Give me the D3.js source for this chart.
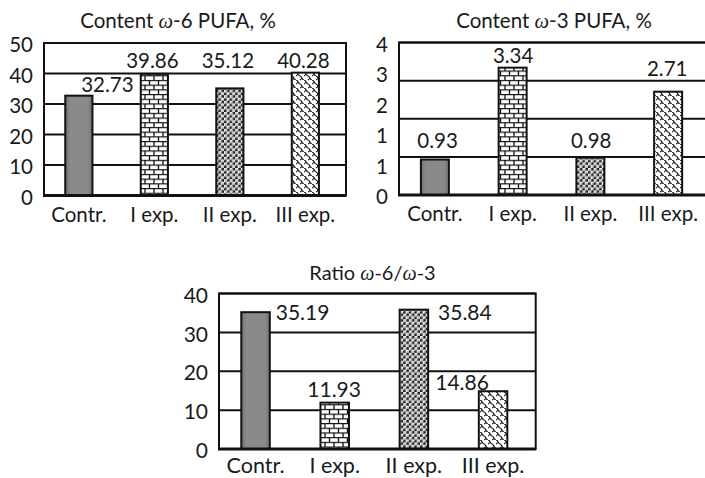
<!DOCTYPE html>
<html>
<head>
<meta charset="utf-8">
<script src="https://cdn.jsdelivr.net/npm/d3@7"></script>
<style>
  body { margin: 0; background: #fff; }
  svg { display: block; font-family: Lato, "Open Sans", sans-serif; }
</style>
</head>
<body>
<svg id="chart" width="705" height="478"></svg>
<script>
// ── Data ─────────────────────────────────────────────────────────────────────
const categories  = ["Contr.", "I exp.", "II exp.", "III exp."];
const omega6      = [32.73, 39.86, 35.12, 40.28];
const omega3      = [0.93, 3.34, 0.98, 2.71];
const ratio       = [35.19, 11.93, 35.84, 14.86];

const omega6Ticks = [0, 10, 20, 30, 40, 50];
const omega3Grid  = [0, 1, 2, 3, 4];
const omega3Ticks = [0, 0.8, 1.6, 2.4, 3.2, 4];          // label positions as printed
const omega3TickLabels = ["0", "1", "1", "2", "3", "4"];
const ratioTicks  = [0, 10, 20, 30, 40];

const fills = ["url(#p-grey)", "url(#p-brick)", "url(#p-dots)", "url(#p-shingle)"];

// ── Patterns ─────────────────────────────────────────────────────────────────
const svg = d3.select("#chart");
const defs = svg.append("defs");

const grey = defs.append("linearGradient").attr("id", "p-grey").attr("x1", 0).attr("x2", 1).attr("y1", 0).attr("y2", 0);
[["0%", "#727272"], ["18%", "#8a8a8a"], ["82%", "#8a8a8a"], ["100%", "#727272"]]
    .forEach(([o, c]) => grey.append("stop").attr("offset", o).attr("stop-color", c));

const brick = defs.append("pattern").attr("id", "p-brick").attr("patternUnits", "userSpaceOnUse")
    .attr("width", 9).attr("height", 9.4);
brick.append("rect").attr("width", 9).attr("height", 9.4).attr("fill", "#fff");
brick.append("path").attr("stroke", "#111").attr("stroke-width", 1.3).attr("fill", "none")
    .attr("d", "M0,0.6H9M0,5.3H9M1,0.6V5.3M5.5,5.3V10");

const dots = defs.append("pattern").attr("id", "p-dots").attr("patternUnits", "userSpaceOnUse")
    .attr("width", 5.6).attr("height", 5.6);
dots.append("rect").attr("width", 5.6).attr("height", 5.6).attr("fill", "#1e1e1e");
[[1.4, 1.4], [4.2, 4.2]].forEach(([cx, cy]) => {
    dots.append("circle").attr("cx", cx).attr("cy", cy).attr("r", 1.85).attr("fill", "#f2f2f2");
    dots.append("circle").attr("cx", cx + 0.35).attr("cy", cy + 0.35).attr("r", 0.6).attr("fill", "#555");
});

const shingle = defs.append("pattern").attr("id", "p-shingle").attr("patternUnits", "userSpaceOnUse")
    .attr("width", 8).attr("height", 8);
shingle.append("rect").attr("width", 8).attr("height", 8).attr("fill", "#fff");
shingle.append("path").attr("stroke", "#111").attr("stroke-width", 1.15).attr("fill", "none")
    .attr("d", "M0,0 C2.5,0.3 1.8,3.6 4,4 S5.6,7.7 8,8 M0,4 Q1,3.4 2.2,2 M4,8 Q5,7.4 6.2,6 M4,0 Q5,-0.6 6.2,-2 M-4,8 Q-3,7.4 -1.8,6");

// ── Panel ────────────────────────────────────────────────────────────────────
function omegaTitle(g, x, y, parts, size) {
    const t = g.append("text").attr("x", x).attr("y", y).attr("text-anchor", "middle")
        .attr("font-size", size).attr("fill", "#1a1a1a");
    parts.forEach(p => {
        const s = t.append("tspan").text(p);
        if (p === "ω") s.attr("font-family", "'Liberation Serif', serif").attr("font-style", "italic");
    });
}

function drawPanel(o) {
    const g = svg.append("g");
    const x = d3.scaleBand().domain(categories).range([o.left, o.right])
        .paddingInner(0.64).paddingOuter(0.32).align(0.44);
    const y = d3.scaleLinear().domain([0, o.yMax]).range([o.bottom, o.top]);

    // frame + grid
    g.append("rect").attr("x", o.left).attr("y", o.top)
        .attr("width", o.right - o.left).attr("height", o.bottom - o.top)
        .attr("fill", "none").attr("stroke", "#111").attr("stroke-width", 2);
    g.selectAll(".grid").data(o.grid).join("line")
        .attr("x1", o.left).attr("x2", o.right)
        .attr("y1", d => y(d)).attr("y2", d => y(d))
        .attr("stroke", "#111").attr("stroke-width", 2);

    // bars
    g.selectAll(".bar").data(o.values).join("rect")
        .attr("x", (d, i) => x(categories[i]))
        .attr("y", d => y(d))
        .attr("width", x.bandwidth())
        .attr("height", d => y(0) - y(d))
        .attr("fill", (d, i) => fills[i])
        .attr("stroke", "#111").attr("stroke-width", 2);

    g.append("line").attr("x1", o.left - 1).attr("x2", o.right)
        .attr("y1", y(0)).attr("y2", y(0)).attr("stroke", "#111").attr("stroke-width", 3);

    // y axis labels
    const axis = d3.axisLeft(y).tickValues(o.ticks).tickSize(0).tickPadding(11)
        .tickFormat((d, i) => o.tickLabels ? o.tickLabels[i] : d);
    const ax = g.append("g").attr("transform", `translate(${o.left},2)`).call(axis);
    ax.select(".domain").remove();
    ax.selectAll("text").attr("font-size", o.font).attr("font-family", "Lato").attr("fill", "#1a1a1a");

    // value labels
    g.selectAll(".val").data(o.values).join("text")
        .attr("x", (d, i) => x(categories[i]) + x.bandwidth() / 2 + o.labelDx[i])
        .attr("y", (d, i) => y(d) + o.labelDy[i])
        .attr("text-anchor", "middle").attr("font-size", o.font).attr("fill", "#1a1a1a")
        .text(d => d.toFixed(2));

    // categories
    g.selectAll(".cat").data(categories).join("text")
        .attr("x", d => x(d) + x.bandwidth() / 2)
        .attr("y", o.catY)
        .attr("text-anchor", "middle").attr("font-size", o.catFont).attr("fill", "#1a1a1a")
        .text(d => d);

    omegaTitle(g, o.titleX, o.titleY, o.title, o.titleSize);
}

drawPanel({
    values: omega6, yMax: 50, grid: omega6Ticks, ticks: omega6Ticks,
    left: 44, right: 346, top: 43, bottom: 195.5,
    labelDx: [28.5, -2, -2, -2], labelDy: [-3.7, -6, -20.4, -4.6],
    catY: 222, font: 20.5, catFont: 20.5,
    title: ["Content ", "ω", "-6 PUFA, %"], titleX: 178, titleY: 28, titleSize: 20.5
});

drawPanel({
    values: omega3, yMax: 4, grid: omega3Grid, ticks: omega3Ticks, tickLabels: omega3TickLabels,
    left: 399, right: 710, top: 42.5, bottom: 195,
    labelDx: [2.7, 0.5, 0.8, -0.9], labelDy: [-11.5, -4.4, -9.6, -15.5],
    catY: 221, font: 20.5, catFont: 20.5,
    title: ["Content ", "ω", "-3 PUFA, %"], titleX: 554, titleY: 28, titleSize: 20.5
});

drawPanel({
    values: ratio, yMax: 40, grid: ratioTicks, ticks: ratioTicks,
    left: 219, right: 535.7, top: 293.5, bottom: 449,
    labelDx: [47, -0.6, 51, -31], labelDy: [7.8, -5.6, 10.3, -1.2],
    catY: 472.5, font: 21, catFont: 21.5,
    title: ["Ratio ", "ω", "-6/", "ω", "-3"], titleX: 372.5, titleY: 280, titleSize: 20
});
</script>
</body>
</html>
